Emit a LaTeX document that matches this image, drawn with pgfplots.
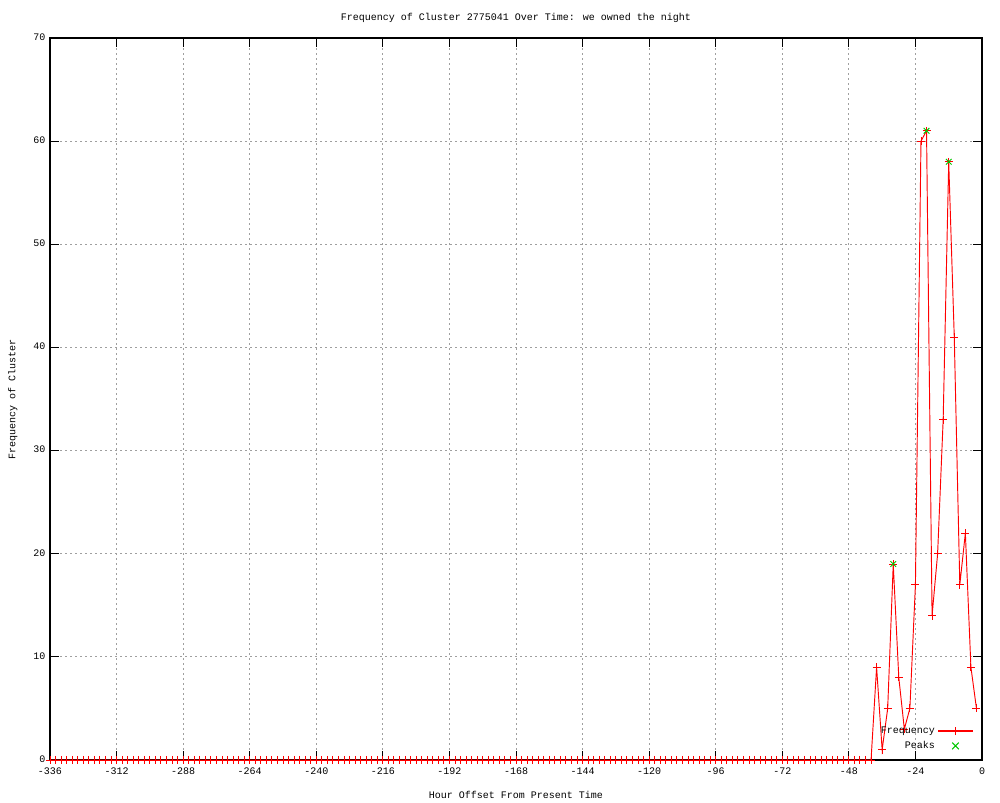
\documentclass[border=0pt]{standalone}
\usepackage{fontspec}
\setmainfont{Liberation Mono}
\usepackage{pgfplots}
\pgfplotsset{compat=1.18}
\definecolor{pkgreen}{rgb}{0,0.78,0}
\begin{document}
\begin{tikzpicture}[font=\fontsize{7.5}{9}\selectfont]
\path (0pt,0pt) rectangle (750pt,600pt);
\begin{axis}[
  at={(37.5pt,30pt)}, anchor=south west,
  scale only axis, width=699pt, height=541.5pt,
  xmin=-336, xmax=0, ymin=0, ymax=70,
  xtick={-336,-312,...,0}, ytick={0,10,...,70},
  /pgf/number format/assume math mode=true,
  /pgf/number format/1000 sep={},
  typeset ticklabels with strut,
  tick label style={font=\fontsize{7.5}{9}\selectfont},
  xticklabel style={yshift=-1pt},
  label style={font=\fontsize{7.5}{9}\selectfont},
  grid=major,
  major grid style={gray!75, dash pattern=on 1.5pt off 2.25pt, line width=0.6pt},
  tick align=inside, major tick length=6.75pt,
  tick style={black, line width=0.7pt},
  axis line style={black, line width=0.9pt},
  title={Frequency of Cluster 2775041 Over Time: we owned the night},
  title style={font=\fontsize{7.5}{9}\selectfont, at={(axis description cs:0.5,1)}, anchor=south, yshift=2pt},
  xlabel={Hour Offset From Present Time},
  ylabel={Frequency of Cluster},
  xlabel style={yshift=-3pt},
  ylabel style={yshift=5pt},
  legend style={draw=none, fill=none, at={(axis cs:-2.5,0.5)}, anchor=south east,
    font=\fontsize{7.5}{9}\selectfont, row sep=0.5pt, inner sep=1pt},
  legend cell align=right,
  legend plot pos=right,
]
\addplot[red, line width=0.7pt, mark=+, mark size=3pt, mark options={line width=0.7pt, red},
  legend image code/.code={\draw[red, line width=1pt] (0pt,0pt) -- (26pt,0pt);
    \draw[red, line width=1pt] (13pt,-3pt) -- (13pt,3pt);}] coordinates {
(-336,0)(-334,0)(-332,0)(-330,0)(-328,0)(-326,0)(-324,0)(-322,0)(-320,0)(-318,0)
(-316,0)(-314,0)(-312,0)(-310,0)(-308,0)(-306,0)(-304,0)(-302,0)(-300,0)(-298,0)
(-296,0)(-294,0)(-292,0)(-290,0)(-288,0)(-286,0)(-284,0)(-282,0)(-280,0)(-278,0)
(-276,0)(-274,0)(-272,0)(-270,0)(-268,0)(-266,0)(-264,0)(-262,0)(-260,0)(-258,0)
(-256,0)(-254,0)(-252,0)(-250,0)(-248,0)(-246,0)(-244,0)(-242,0)(-240,0)(-238,0)
(-236,0)(-234,0)(-232,0)(-230,0)(-228,0)(-226,0)(-224,0)(-222,0)(-220,0)(-218,0)
(-216,0)(-214,0)(-212,0)(-210,0)(-208,0)(-206,0)(-204,0)(-202,0)(-200,0)(-198,0)
(-196,0)(-194,0)(-192,0)(-190,0)(-188,0)(-186,0)(-184,0)(-182,0)(-180,0)(-178,0)
(-176,0)(-174,0)(-172,0)(-170,0)(-168,0)(-166,0)(-164,0)(-162,0)(-160,0)(-158,0)
(-156,0)(-154,0)(-152,0)(-150,0)(-148,0)(-146,0)(-144,0)(-142,0)(-140,0)(-138,0)
(-136,0)(-134,0)(-132,0)(-130,0)(-128,0)(-126,0)(-124,0)(-122,0)(-120,0)(-118,0)
(-116,0)(-114,0)(-112,0)(-110,0)(-108,0)(-106,0)(-104,0)(-102,0)(-100,0)(-98,0)
(-96,0)(-94,0)(-92,0)(-90,0)(-88,0)(-86,0)(-84,0)(-82,0)(-80,0)(-78,0)
(-76,0)(-74,0)(-72,0)(-70,0)(-68,0)(-66,0)(-64,0)(-62,0)(-60,0)(-58,0)
(-56,0)(-54,0)(-52,0)(-50,0)(-48,0)(-46,0)(-44,0)(-42,0)(-40,0)
(-38,9)(-36,1)(-34,5)(-32,19)(-30,8)(-28,3)(-26,5)(-24,17)(-22,60)(-20,61)
(-18,14)(-16,20)(-14,33)(-12,58)(-10,41)(-8,17)(-6,22)(-4,9)(-2,5)
};
\addlegendentry{Frequency}
\addplot[only marks, pkgreen, mark=x, mark size=3pt, mark options={line width=0.7pt},
  legend image code/.code={\draw[pkgreen, line width=0.8pt] (10.5pt,-2.5pt) -- (15.5pt,2.5pt) (10.5pt,2.5pt) -- (15.5pt,-2.5pt);
    \path (0pt,0pt) (26pt,0pt);}] coordinates {
(-32,19)(-20,61)(-12,58)
};
\addlegendentry{Peaks}
\end{axis}
\end{tikzpicture}
\end{document}
